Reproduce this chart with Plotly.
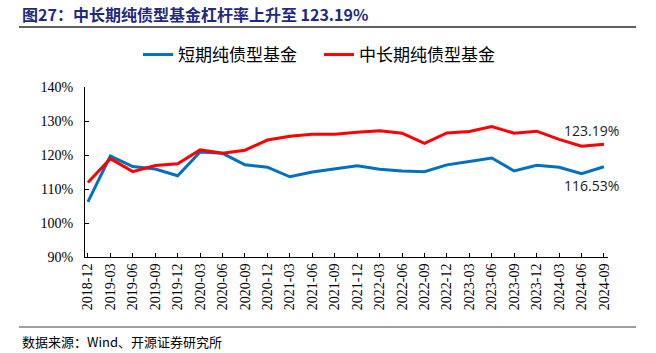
import plotly.graph_objects as go

categories = ["2018-12", "2019-03", "2019-06", "2019-09", "2019-12", "2020-03", "2020-06",
              "2020-09", "2020-12", "2021-03", "2021-06", "2021-09", "2021-12", "2022-03",
              "2022-06", "2022-09", "2022-12", "2023-03", "2023-06", "2023-09", "2023-12",
              "2024-03", "2024-06", "2024-09"]
short_term = [106.2, 119.7, 116.6, 115.9, 113.9, 120.9, 120.5, 117.1, 116.4, 113.6, 115.0, 115.8,
              116.8, 115.8, 115.3, 115.1, 117.1, 118.1, 119.1, 115.3, 117.0, 116.4, 114.5, 116.53]
mid_long_term = [111.9, 118.9, 115.1, 116.9, 117.4, 121.5, 120.5, 121.4, 124.4, 125.5, 126.1, 126.1,
                 126.7, 127.1, 126.4, 123.4, 126.5, 126.9, 128.4, 126.4, 127.0, 124.6, 122.6, 123.19]
y_ticks = [90, 100, 110, 120, 130, 140]
y_tick_labels = [f"{v}%" for v in y_ticks]
series_names = ["短期纯债型基金", "中长期纯债型基金"]
title_text = f"图27：中长期纯债型基金杠杆率上升至 {mid_long_term[-1]:.2f}%"
source_text = "数据来源：Wind、开源证券研究所"

W, H = 656, 353
L, R, T, B = 85, 48, 87, 96
PW, PH = W - L - R, H - T - B


def px(x):
    return (x - L) / PW


def py(y):
    return (H - B - y) / PH


serif = "Liberation Serif, Times New Roman, serif"
cjk = "Noto Sans CJK SC, sans-serif"

fig = go.Figure()
fig.add_trace(go.Scatter(x=list(range(len(categories))), y=short_term, mode="lines",
                         name=series_names[0], line=dict(color="#0070C0", width=3)))
fig.add_trace(go.Scatter(x=list(range(len(categories))), y=mid_long_term, mode="lines",
                         name=series_names[1], line=dict(color="#FF0000", width=3)))

fig.update_layout(
    width=W, height=H,
    margin=dict(l=L, r=R, t=T, b=B, pad=0),
    paper_bgcolor="white", plot_bgcolor="white",
    showlegend=True,
    legend=dict(orientation="h", x=px(138), y=py(55), xanchor="left", yanchor="middle",
                font=dict(family=cjk, size=17, color="#000000"),
                entrywidth=136, entrywidthmode="pixels", itemwidth=30,
                bgcolor="rgba(0,0,0,0)"),
    xaxis=dict(range=[-0.13, 23.18], tickmode="array",
               tickvals=list(range(len(categories))), ticktext=categories,
               tickangle=-90, ticks="inside", ticklen=4, tickcolor="#000000",
               showline=True, linecolor="#000000", linewidth=1,
               showgrid=False, zeroline=False,
               tickfont=dict(family=serif, size=14, color="#000000")),
    yaxis=dict(range=[90, 140], tickmode="array", tickvals=y_ticks, ticktext=y_tick_labels,
               ticks="inside", ticklen=4, tickcolor="#000000",
               showline=True, linecolor="#000000", linewidth=1,
               showgrid=False, zeroline=False, ticklabelstandoff=8,
               tickfont=dict(family=serif, size=14, color="#000000")),
    annotations=[
        dict(text=f"<b>{title_text}</b>", xref="paper", yref="paper", x=px(20), y=py(14),
             xanchor="left", yanchor="middle", showarrow=False,
             font=dict(family=cjk, size=16, color="#1F2A80")),
        dict(text=source_text, xref="paper", yref="paper", x=px(20), y=py(341),
             xanchor="left", yanchor="middle", showarrow=False,
             font=dict(family=cjk, size=13, color="#000000")),
        dict(text=f"{mid_long_term[-1]:.2f}%", x=len(categories) - 1, y=mid_long_term[-1],
             xref="x", yref="y", showarrow=False, xanchor="center", yanchor="middle",
             xshift=-12, yshift=14, font=dict(family="Open Sans, sans-serif", size=14, color="#222222")),
        dict(text=f"{short_term[-1]:.2f}%", x=len(categories) - 1, y=short_term[-1],
             xref="x", yref="y", showarrow=False, xanchor="center", yanchor="middle",
             xshift=-12, yshift=-19, font=dict(family="Open Sans, sans-serif", size=14, color="#222222")),
    ],
    shapes=[
        dict(type="line", xref="paper", yref="paper", x0=px(19), x1=px(636), y0=py(27), y1=py(27),
             line=dict(color="#606060", width=2)),
        dict(type="line", xref="paper", yref="paper", x0=px(19), x1=px(636), y0=py(327), y1=py(327),
             line=dict(color="#808080", width=1.5)),
    ],
)

fig.write_html("out.html")
